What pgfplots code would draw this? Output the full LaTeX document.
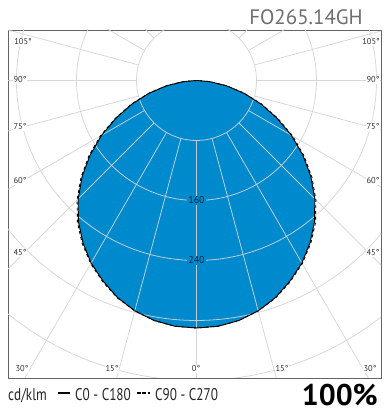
\documentclass[border=0pt]{standalone}
\usepackage{fontspec}
\setmainfont{PT Sans}
\usepackage{graphicx}
\usepackage{pgfplots}
\pgfplotsset{compat=1.18}
\definecolor{blob}{RGB}{0,138,206}
\definecolor{gridc}{RGB}{212,212,212}
\definecolor{lbl}{RGB}{50,50,50}
\definecolor{framec}{RGB}{100,100,100}
\definecolor{ringlbl}{RGB}{15,35,55}
\definecolor{titlec}{RGB}{110,110,110}
\begin{document}
\begin{tikzpicture}
\path[use as bounding box] (-8bp,-36bp) rectangle (377bp,378bp);
\begin{axis}[
  at={(0,0)}, anchor=south west,
  scale only axis, width=373bp, height=348bp,
  xmin=-251.3, xmax=246, ymin=-396.7, ymax=67.3,
  xtick=\empty, ytick=\empty,
  axis line style={framec, line width=0.9bp},
]
\addplot[fill=blob, draw=none, data cs=polar] coordinates {
(-180,0) (-175,17.7) (-170,40.5) (-165,65.4) (-160,91.3) (-155,118) (-150,146)
(-145,173) (-140,199) (-135,223) (-130,245) (-125,264) (-120,281) (-115,295)
(-110,308) (-105,318) (-100,325) (-95,329) (-90,330) (-85,329) (-80,325)
(-75,318) (-70,308) (-65,295) (-60,281) (-55,264) (-50,245) (-45,223)
(-40,199) (-35,173) (-30,146) (-25,118) (-20,91.3) (-15,65.4) (-10,40.5)
(-5,17.7) (0,0)} -- cycle;
\pgfplotsinvokeforeach{80,160,240,320,400}{
  \draw[gridc, opacity=0.9, line width=0.8bp] (axis cs:0,0) circle[radius=#1];
}
\pgfplotsinvokeforeach{0,15,...,345}{
  \draw[gridc, opacity=0.9, line width=0.8bp] (axis cs:{80*cos(#1)},{80*sin(#1)}) -- (axis cs:{700*cos(#1)},{700*sin(#1)});
}
\node[fill=blob, text=ringlbl, inner sep=1pt, font=\fontsize{10}{10}\selectfont] at (axis cs:0,-160) {160};
\node[fill=blob, text=ringlbl, inner sep=1pt, font=\fontsize{10}{10}\selectfont] at (axis cs:0,-240) {240};
\addplot[black, line width=0.9bp, data cs=polar] coordinates {
(-180,0) (-175,17.7) (-170,40.5) (-165,65.4) (-160,91.3) (-155,118) (-150,146)
(-145,173) (-140,199) (-135,223) (-130,245) (-125,264) (-120,281) (-115,295)
(-110,308) (-105,318) (-100,325) (-95,329) (-90,330) (-85,329) (-80,325)
(-75,318) (-70,308) (-65,295) (-60,281) (-55,264) (-50,245) (-45,223)
(-40,199) (-35,173) (-30,146) (-25,118) (-20,91.3) (-15,65.4) (-10,40.5)
(-5,17.7) (0,0)};
\addplot[black, dashed, line width=0.9bp, data cs=polar] coordinates {
(-180,0) (-175,18) (-170,41) (-165,66) (-160,92.5) (-155,119.5) (-150,148)
(-145,175) (-140,201) (-135,225) (-130,247) (-125,265.5) (-120,282) (-115,296)
(-110,308.5) (-105,318) (-100,325) (-95,329) (-90,330) (-85,329) (-80,325)
(-75,318) (-70,308.5) (-65,296) (-60,282) (-55,265.5) (-50,247) (-45,225)
(-40,201) (-35,175) (-30,148) (-25,119.5) (-20,92.5) (-15,66) (-10,41)
(-5,18) (0,0)};
\end{axis}
\begin{scope}[every node/.style={text=lbl, fill=white, inner sep=0.5pt, font=\fontsize{8.5}{8.5}\selectfont}]
\node at (15bp,336bp) {105°};
\node at (12bp,298bp) {90°};
\node at (12bp,251bp) {75°};
\node at (12bp,197bp) {60°};
\node at (12bp,125bp) {45°};
\node at (363bp,336bp) {105°};
\node at (365bp,298bp) {90°};
\node at (365bp,251bp) {75°};
\node at (365bp,197bp) {60°};
\node at (365bp,125bp) {45°};
\node at (14bp,9bp) {30°};
\node at (104bp,9bp) {15°};
\node at (188bp,9bp) {0°};
\node at (274bp,9bp) {15°};
\node at (362bp,9bp) {30°};
\end{scope}
\node[anchor=base east, text=titlec, inner sep=0pt, font=\fontsize{21}{21}\selectfont] at (355bp,353bp) {FO265.14GH};
\begin{scope}[every node/.style={anchor=base west, inner sep=0pt, text=black!85}]
\node at (0bp,-22.5bp) {\scalebox{0.78}[1]{\fontsize{17}{17}\selectfont cd/klm}};
\draw[black, line width=1.6bp] (50bp,-15bp) -- (62bp,-15bp);
\node at (67bp,-22.5bp) {\scalebox{0.78}[1]{\fontsize{17}{17}\selectfont C0 - C180}};
\draw[black, line width=1.6bp, dash pattern=on 3.5bp off 1.8bp] (129bp,-15bp) -- (142bp,-15bp);
\node at (147bp,-22.5bp) {\scalebox{0.78}[1]{\fontsize{17}{17}\selectfont C90 - C270}};
\end{scope}
\node[anchor=base east, inner sep=0pt, font=\fontsize{30}{30}\selectfont\bfseries] at (370bp,-27bp) {100\%};
\end{tikzpicture}
\end{document}
